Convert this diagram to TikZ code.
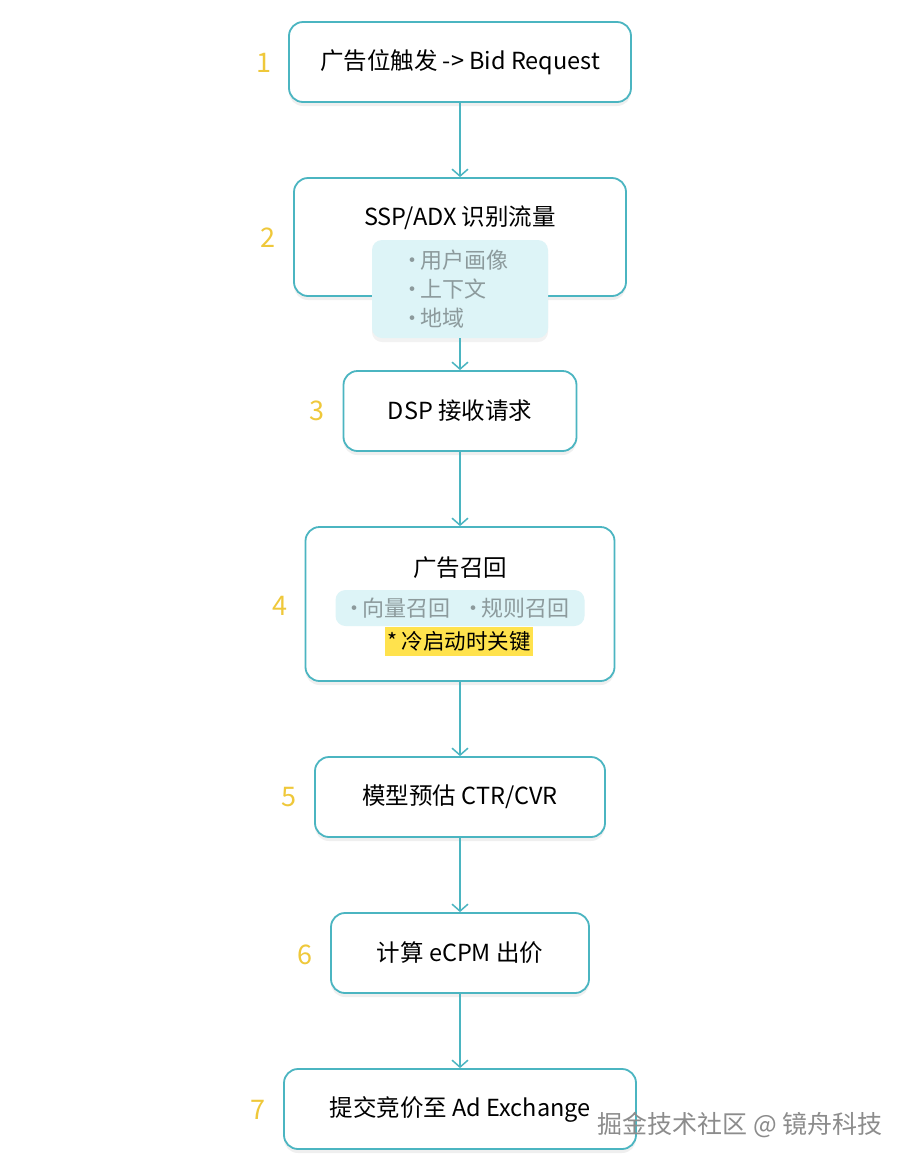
\documentclass[tikz,border=0pt]{standalone}
\usepackage{fontspec}
\setmainfont{Noto Sans CJK SC}
\usetikzlibrary{arrows.meta,shadows}
\definecolor{tealc}{HTML}{4BB5C1}
\definecolor{numyel}{HTML}{EFC83A}
\definecolor{subfill}{HTML}{DDF4F7}
\definecolor{subtext}{HTML}{8C9A9C}
\definecolor{hlyel}{HTML}{FFE24D}
\newcommand{\dotitem}{·\hspace{-3pt}}
\tikzset{
  stepbox/.style={draw=tealc, line width=1.8pt, rounded corners=14pt, fill=white,
    drop shadow={opacity=0.12, shadow xshift=0pt, shadow yshift=-4pt}},
  subbox/.style={fill=subfill, rounded corners=10pt},
  maintext/.style={font=\fontsize{23.5}{28}\selectfont, text=black},
  itemtext/.style={font=\fontsize{22}{29}\selectfont, text=subtext},
  numtext/.style={font=\fontsize{27}{30}\selectfont, text=numyel},
  flow/.style={draw=tealc, line width=1.5pt, -{Straight Barb[length=7pt,width=16pt,line width=1.5pt]}}
}
\begin{document}
\begin{tikzpicture}[x=1pt,y=-1pt]
\useasboundingbox (0,0) rectangle (912,1168);
\fill[white] (0,0) rectangle (912,1168);

% boxes
\node[stepbox, minimum width=342pt, minimum height=80pt] (b1) at (460,62) {};
\node[stepbox, minimum width=332pt, minimum height=118pt] (b2) at (460,237) {};
\node[subbox, minimum width=176pt, minimum height=98pt,
  drop shadow={opacity=0.10, shadow xshift=0pt, shadow yshift=-4pt}] (s2) at (460,289) {};
\node[stepbox, minimum width=233pt, minimum height=80pt] (b3) at (460,411) {};
\node[stepbox, minimum width=309pt, minimum height=154pt] (b4) at (460,604) {};
\node[subbox, minimum width=249pt, minimum height=36pt] (s4) at (460,608) {};
\node[fill=hlyel, minimum width=148pt, minimum height=29pt, inner sep=0pt] (hl) at (459,641.5) {};
\node[stepbox, minimum width=290pt, minimum height=80pt] (b5) at (460,797) {};
\node[stepbox, minimum width=258pt, minimum height=80pt] (b6) at (460,953) {};
\node[stepbox, minimum width=352pt, minimum height=80pt] (b7) at (460,1109) {};

% texts
\node[maintext] (t1) at (460,62) {广告位触发 -> Bid Request};
\node[maintext] (t2) at (460,218) {SSP/ADX 识别流量};
\node[itemtext, align=left, anchor=north west, inner sep=0pt] (i2) at (401,250) {\dotitem 用户画像\\\dotitem 上下文\\\dotitem 地域};
\node[maintext] (t3) at (460,411) {DSP 接收请求};
\node[maintext] (t4) at (460,568) {广告召回};
\node[itemtext] (i4) at (456,608) {\dotitem 向量召回\hspace{12pt}\dotitem 规则召回};
\node[maintext, font=\fontsize{21.5}{24}\selectfont] (h4) at (459,641.5) {* 冷启动时关键};
\node[maintext] (t5) at (460,797) {模型预估 CTR/CVR};
\node[maintext] (t6) at (460,953) {计算 eCPM 出价};
\node[maintext] (t7) at (460,1109) {提交竞价至 Ad Exchange};

% numbers
\node[numtext] (n1) at (264,63) {1};
\node[numtext] (n2) at (268,238) {2};
\node[numtext] (n3) at (317,411) {3};
\node[numtext] (n4) at (280,606) {4};
\node[numtext] (n5) at (289,797) {5};
\node[numtext] (n6) at (305,955) {6};
\node[numtext] (n7) at (258,1110) {7};

% connectors
\draw[flow] (b1.south) -- (b2.north);
\draw[flow] (s2.south) -- (b3.north);
\draw[flow] (b3.south) -- (b4.north);
\draw[flow] (b4.south) -- (b5.north);
\draw[flow] (b5.south) -- (b6.north);
\draw[flow] (b6.south) -- (b7.north);

% watermark
\node[font=\fontsize{25}{29}\selectfont, text=black!45, anchor=west] (wm) at (594,1125) {掘金技术社区 @ 镜舟科技};
\end{tikzpicture}
\end{document}
